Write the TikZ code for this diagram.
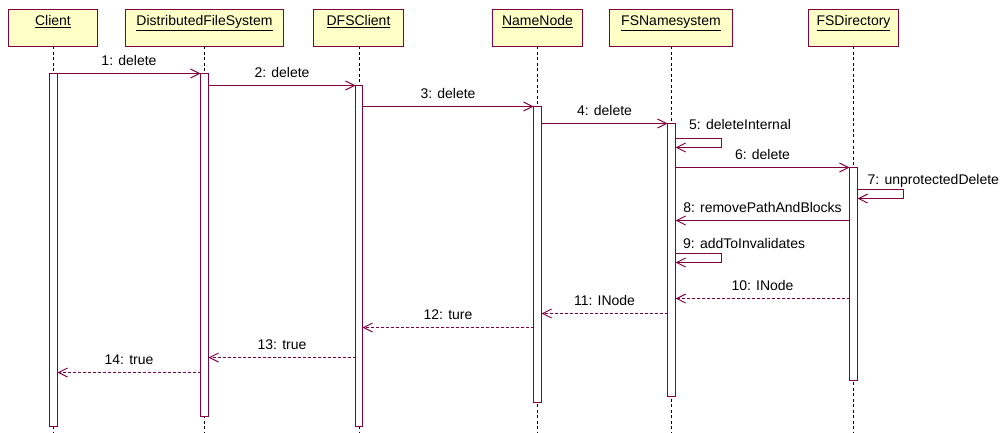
\documentclass[tikz,border=0pt]{standalone}
\usepackage{fontspec}
\setmainfont{Liberation Sans}
\usetikzlibrary{arrows.meta,fit}
\definecolor{rose}{RGB}{128,0,64}
\definecolor{boxfill}{RGB}{255,255,200}
\begin{document}
\begin{tikzpicture}[x=1pt,y=-1pt,
  txt/.style={font=\fontsize{14}{16}\selectfont,text=black,inner sep=0pt},
  objbox/.style={draw=rose,line width=1.4pt,fill=boxfill,minimum height=37pt,inner sep=0pt,outer sep=0pt},
  objlabel/.style={txt,anchor=base},
  lifeline/.style={draw=black,line width=1pt,dash pattern=on 3pt off 2.5pt},
  act/.style={draw=rose,line width=1.4pt,fill=white,inner sep=0pt,outer sep=0pt},
  msg/.style={draw=rose,line width=1pt,-{Straight Barb[length=9pt,width=9pt,line width=1pt]}},
  ret/.style={msg,dash pattern=on 3pt off 2pt},
  mlabel/.style={txt,anchor=base,yshift=8pt},
  slabel/.style={txt,anchor=base west},
]
\useasboundingbox (0,0) rectangle (1006,433);
\coordinate (bottom) at (0,433);

% object boxes
\node[objbox,minimum width=89pt]  (client) at (53,28) {};
\node[objbox,minimum width=158pt] (dfs)    at (204.5,28) {};
\node[objbox,minimum width=90pt]  (dfsc)   at (358.5,28) {};
\node[objbox,minimum width=90pt]  (nn)     at (537.5,28) {};
\node[objbox,minimum width=123pt] (fsn)    at (671,28) {};
\node[objbox,minimum width=90pt]  (fsd)    at (853.5,28) {};

\node[objlabel] (lclient) at ([yshift=-16pt]client.north) {\underline{Client}};
\node[objlabel] (ldfs)    at ([yshift=-16pt]dfs.north) {\underline{DistributedFileSystem}};
\node[objlabel] (ldfsc)   at ([yshift=-16pt]dfsc.north) {\underline{DFSClient}};
\node[objlabel] (lnn)     at ([yshift=-16pt]nn.north) {\underline{NameNode}};
\node[objlabel] (lfsn)    at ([yshift=-16pt]fsn.north) {\underline{FSNamesystem}};
\node[objlabel] (lfsd)    at ([yshift=-16pt]fsd.north) {\underline{FSDirectory}};

% lifelines
\coordinate (x1) at (53.5,0);
\coordinate (x2) at (204.5,0);
\coordinate (x3) at (359.5,0);
\coordinate (x4) at (537.5,0);
\coordinate (x5) at (671.5,0);
\coordinate (x6) at (853.5,0);
\draw[lifeline] (x1 |- client.south) -- (x1 |- bottom);
\draw[lifeline] (x2 |- dfs.south) -- (x2 |- bottom);
\draw[lifeline] (x3 |- dfsc.south) -- (x3 |- bottom);
\draw[lifeline] (x4 |- nn.south) -- (x4 |- bottom);
\draw[lifeline] (x5 |- fsn.south) -- (x5 |- bottom);
\draw[lifeline] (x6 |- fsd.south) -- (x6 |- bottom);

% activation bars
\node[act,fit={(49.5,73.5)(57.5,426.5)}]   (aC) {};
\node[act,fit={(200.5,73.5)(208.5,416.5)}] (aD) {};
\node[act,fit={(355.5,85.5)(362.5,426.5)}] (aE) {};
\node[act,fit={(533.5,106.5)(541.5,402.5)}] (aN) {};
\node[act,fit={(667.5,123.5)(675.5,396.5)}] (aS) {};
\node[act,fit={(849.5,167.5)(857.5,380.5)}] (aF) {};

% message levels
\coordinate (m1) at (0,73.5);
\coordinate (m2) at (0,85.5);
\coordinate (m3) at (0,106.5);
\coordinate (m4) at (0,123.5);
\coordinate (l5a) at (0,138.5);
\coordinate (l5b) at (0,147.5);
\coordinate (m6) at (0,167.5);
\coordinate (l7a) at (0,189.5);
\coordinate (l7b) at (0,198.5);
\coordinate (m8) at (0,220.5);
\coordinate (l9a) at (0,253.5);
\coordinate (l9b) at (0,262.5);
\coordinate (m10) at (0,298.5);
\coordinate (m11) at (0,313.5);
\coordinate (m12) at (0,327.5);
\coordinate (m13) at (0,357.5);
\coordinate (m14) at (0,372.5);

% calls
\draw[msg] (aC.east |- m1) -- node[mlabel] {1: delete} (aD.west |- m1);
\draw[msg] (aD.east |- m2) -- node[mlabel] {2: delete} (aE.west |- m2);
\draw[msg] (aE.east |- m3) -- node[mlabel] {3: delete} (aN.west |- m3);
\draw[msg] (aN.east |- m4) -- node[mlabel] {4: delete} (aS.west |- m4);
\draw[msg] (aS.east |- l5a) -- ++(46,0) -- ++(0,9) -- (aS.east |- l5b);
\node[slabel] (t5) at ([xshift=13.5pt,yshift=9pt]aS.east |- l5a) {5: deleteInternal};
\draw[msg] (aS.east |- m6) -- node[mlabel] {6: delete} (aF.west |- m6);
\draw[msg] (aF.east |- l7a) -- ++(46,0) -- ++(0,9) -- (aF.east |- l7b);
\node[slabel] (t7) at ([xshift=10pt,yshift=5pt]aF.east |- l7a) {7: unprotectedDelete};
\draw[msg] (aF.west |- m8) -- node[mlabel] {8: removePathAndBlocks} (aS.east |- m8);
\draw[msg] (aS.east |- l9a) -- ++(46,0) -- ++(0,9) -- (aS.east |- l9b);
\node[slabel] (t9) at ([xshift=7.5pt,yshift=5pt]aS.east |- l9a) {9: addToInvalidates};

% returns
\draw[ret] (aF.west |- m10) -- node[mlabel] {10: INode} (aS.east |- m10);
\draw[ret] (aS.west |- m11) -- node[mlabel] {11: INode} (aN.east |- m11);
\draw[ret] (aN.west |- m12) -- node[mlabel] {12: ture} (aE.east |- m12);
\draw[ret] (aE.west |- m13) -- node[mlabel] {13: true} (aD.east |- m13);
\draw[ret] (aD.west |- m14) -- node[mlabel] {14: true} (aC.east |- m14);
\end{tikzpicture}
\end{document}
